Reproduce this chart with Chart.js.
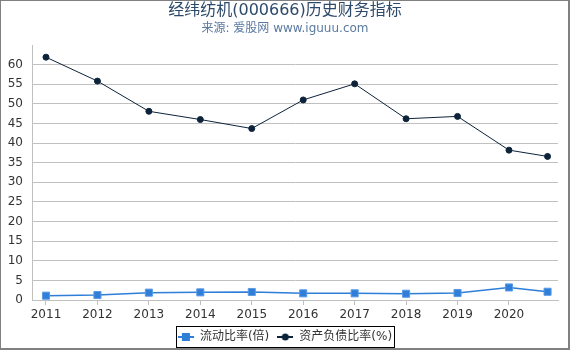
<!DOCTYPE html>
<html>
<head>
<meta charset="utf-8">
<script src="https://cdn.jsdelivr.net/npm/chart.js@4/dist/chart.umd.min.js"></script>
<style>
  html, body { margin: 0; padding: 0; background: #fff; }
  #wrap { width: 570px; height: 350px; position: relative; }
</style>
</head>
<body>
<div id="wrap"><canvas id="c" width="570" height="350"></canvas></div>
<script>
// ---- data ----
const titleText = '经纬纺机(000666)历史财务指标';
const subtitleText = '来源: 爱股网 www.iguuu.com';
const seriesNames = ['流动比率(倍)', '资产负债比率(%)'];
const periods = [2011, 2012, 2013, 2014, 2015, 2016, 2017, 2018, 2019, 2020, 2020.75];
const tickYears = [2011, 2012, 2013, 2014, 2015, 2016, 2017, 2018, 2019, 2020];
const currentRatio = [1.10, 1.27, 1.87, 1.95, 2.04, 1.70, 1.70, 1.60, 1.78, 3.20, 2.10];
const debtRatio = [61.9, 55.8, 48.1, 46.0, 43.7, 51.0, 55.1, 46.2, 46.8, 38.2, 36.6];
const yTicks = [0, 5, 10, 15, 20, 25, 30, 35, 40, 45, 50, 55, 60];

const BLUE = '#2f7ed8';
const NAVY = '#0d233a';
const FONT = "'DejaVu Sans', 'Noto Sans CJK SC', sans-serif";

function legendIcon(color, shape) {
  const cv = document.createElement('canvas');
  cv.width = 16; cv.height = 10;
  const g = cv.getContext('2d');
  g.strokeStyle = color; g.lineWidth = 2;
  g.beginPath(); g.moveTo(0, 5); g.lineTo(16, 5); g.stroke();
  g.fillStyle = color;
  if (shape === 'rect') { g.fillRect(4, 1, 8, 8); }
  else { g.beginPath(); g.arc(8, 5, 3.5, 0, Math.PI * 2); g.fill(); }
  return cv;
}
const icons = [legendIcon(BLUE, 'rect'), legendIcon(NAVY, 'circle')];

const framePlugin = {
  id: 'frame',
  afterLayout(chart) {
    // centre title, subtitle and legend on the full canvas width
    const shift = 6;
    [chart.titleBlock, chart.$subtitle, chart.legend].forEach(b => {
      if (b) { b.left += shift; b.right += shift; }
    });
    if (!chart.$subtitle) {
      chart.boxes.forEach(b => {
        if (b !== chart.titleBlock && b !== chart.legend && !b.axis && b.options && b.options.text === subtitleText) {
          b.left += shift; b.right += shift;
        }
      });
    }
  },
  afterDraw(chart) {
    const ctx = chart.ctx;
    const W = chart.width, H = chart.height;
    ctx.save();
    const lg = chart.legend;
    const pad = lg.options.labels.padding;
    const startX = (lg.left + pad + lg.right - lg.lineWidths[0]) / 2;
    const endX = startX + lg.lineWidths[0] - pad;
    const top = lg.top + pad;
    ctx.strokeStyle = '#000';
    ctx.lineWidth = 1;
    ctx.strokeRect(Math.round(startX - 2) + 0.5, Math.round(top - 5) + 0.5,
                   Math.round(endX - startX + 4), 21);
    ctx.fillStyle = '#808080';
    ctx.fillRect(0, 0, W, 1);
    ctx.fillRect(0, 0, 1, H);
    ctx.fillRect(W - 2, 0, 2, H);
    ctx.fillRect(0, H - 2, W, 2);
    ctx.restore();
  }
};

new Chart(document.getElementById('c'), {
  type: 'line',
  data: {
    datasets: [
      {
        label: seriesNames[0],
        data: periods.map((p, i) => ({ x: p, y: currentRatio[i] })),
        borderColor: BLUE, backgroundColor: BLUE, borderWidth: 1.5,
        pointStyle: 'rect', pointRadius: 5, pointBorderWidth: 1,
        pointBackgroundColor: BLUE, pointBorderColor: '#5a9ae6',
        tension: 0, fill: false
      },
      {
        label: seriesNames[1],
        data: periods.map((p, i) => ({ x: p, y: debtRatio[i] })),
        borderColor: NAVY, backgroundColor: NAVY, borderWidth: 1,
        pointStyle: 'circle', pointRadius: 3, pointBorderWidth: 1,
        pointBackgroundColor: NAVY, pointBorderColor: NAVY,
        tension: 0, fill: false
      }
    ]
  },
  options: {
    responsive: false,
    animation: false,
    devicePixelRatio: 1,
    layout: { padding: { left: 0, right: 12, top: 0, bottom: -3 } },
    plugins: {
      title: {
        display: true, text: titleText, color: '#2d4a6b',
        font: { family: FONT, size: 16, weight: 'normal', lineHeight: 1.2 },
        padding: { top: 1, bottom: 0 }
      },
      subtitle: {
        display: true, text: subtitleText, color: '#5b7aa0',
        font: { family: FONT, size: 12, weight: 'normal', lineHeight: 1.2 },
        padding: { top: 1, bottom: 9.4 }
      },
      legend: {
        display: true, position: 'bottom',
        labels: {
          color: '#333', font: { family: FONT, size: 12 },
          usePointStyle: true, pointStyleWidth: 16, padding: 8,
          generateLabels(chart) {
            const items = Chart.defaults.plugins.legend.labels.generateLabels(chart);
            items.forEach((it, i) => { it.pointStyle = icons[i]; });
            return items;
          }
        }
      },
      tooltip: { enabled: false }
    },
    scales: {
      x: {
        type: 'linear',
        min: 2010.728, max: 2020.953,
        afterBuildTicks(scale) { scale.ticks = tickYears.map(v => ({ value: v })); },
        afterFit(scale) { scale.height = 23; },
        ticks: {
          color: '#333', font: { family: FONT, size: 12 }, padding: 3,
          maxRotation: 0, autoSkip: false,
          callback: (v) => String(v)
        },
        grid: { drawOnChartArea: false, drawTicks: true, tickLength: 5, color: '#c0c0c0' },
        border: { display: true, color: '#c0c0c0' }
      },
      y: {
        type: 'linear', min: 0, max: 65,
        afterBuildTicks(scale) { scale.ticks = yTicks.map(v => ({ value: v })); },
        afterFit(scale) { scale.width = 32; },
        ticks: {
          color: '#333', font: { family: FONT, size: 12 }, padding: 9,
          callback: (v) => String(v)
        },
        grid: { color: '#c0c0c0', drawTicks: false },
        border: { display: true, color: '#c0c0c0' }
      }
    }
  },
  plugins: [framePlugin]
});
</script>
</body>
</html>
